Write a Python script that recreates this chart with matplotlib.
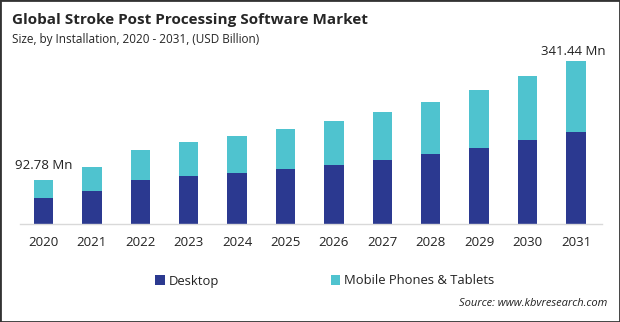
import matplotlib
matplotlib.use("Agg")
import matplotlib.pyplot as plt
from matplotlib.patches import Rectangle

# Chart data (USD Million)
years = ["2020", "2021", "2022", "2023", "2024", "2025",
         "2026", "2027", "2028", "2029", "2030", "2031"]
desktop = [54.4, 69.0, 92.0, 100.5, 107.0, 115.0,
           123.5, 134.0, 146.6, 159.0, 176.0, 192.7]
mobile = [38.38, 50.0, 63.0, 71.5, 77.0, 84.0,
          92.5, 100.5, 108.4, 121.6, 134.0, 148.74]
first_label = "92.78 Mn"
last_label = "341.44 Mn"

DARK = "#2b3990"
CYAN = "#4fc3cf"

plt.rcParams['font.family'] = ['Open Sans', 'DejaVu Sans']

fig = plt.figure(figsize=(6.2, 3.22), dpi=100)
ax = fig.add_axes([20 / 620, 1 - 224 / 322, 582 / 620, 191 / 322])

x = list(range(len(years)))
ax.bar(x, desktop, width=0.4, color=DARK, label="Desktop")
ax.bar(x, mobile, width=0.4, bottom=desktop, color=CYAN,
       label="Mobile Phones & Tablets")

ax.set_xlim(-0.485, 11.537)
ax.set_ylim(0, 400)

totals = [d + m for d, m in zip(desktop, mobile)]
ax.text(x[0], totals[0] + 30, first_label, ha='center', va='center',
        fontsize=9.5, color='#222222')
ax.text(x[-1] - 0.05, totals[-1] + 20, last_label, ha='center', va='center',
        fontsize=9.5, color='#222222')

ax.set_xticks(x)
ax.set_xticklabels(years, fontsize=9.5, color='#222222')
ax.tick_params(axis='x', length=0, pad=9)
ax.set_yticks([])
for side in ['left', 'right', 'top']:
    ax.spines[side].set_visible(False)
ax.spines['bottom'].set_color('#d9d9d9')
ax.spines['bottom'].set_linewidth(1)

# titles
fig.text(12 / 620, 1 - 20 / 322, "Global Stroke Post Processing Software Market",
         fontsize=11, fontweight='bold', color='#262626', va='center')
fig.text(12 / 620, 1 - 40 / 322, "Size, by Installation, 2020 - 2031, (USD Billion)",
         fontsize=8.5, color='#262626', va='center')

# legend
fig.legend(loc='center', bbox_to_anchor=(325 / 620, 1 - 281 / 322), ncol=2,
           frameon=False, fontsize=9.4, handlelength=0.7, handleheight=0.7,
           handletextpad=0.3, columnspacing=8.6, labelcolor='#222222')

fig.text(607 / 620, 1 - 304 / 322, "Source: www.kbvresearch.com",
         fontsize=8, style='italic', color='#222222', ha='right', va='center')

fig.patches.append(Rectangle((0, 0), 1, 1, transform=fig.transFigure,
                             fill=False, edgecolor='#333333', linewidth=2))

fig.savefig("out.png", dpi=100)
